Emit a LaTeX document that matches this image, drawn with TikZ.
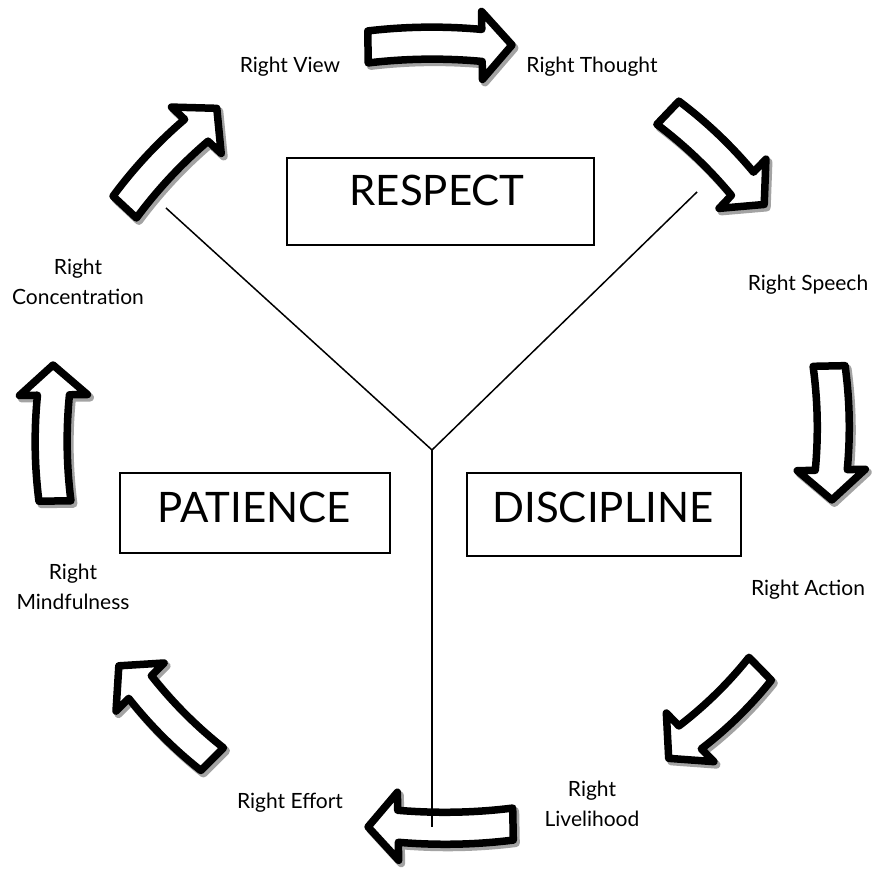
\documentclass[tikz,border=0pt]{standalone}
\usepackage{fontspec}
\setmainfont{Lato}
\begin{document}
\begin{tikzpicture}[x=1pt,y=1pt,
  frame/.style={draw=black, line width=1.3pt},
  boxtext/.style={font=\fontsize{42}{46}\selectfont, inner sep=0pt},
  steplabel/.style={font=\fontsize{21}{30}\selectfont, align=center, inner sep=0pt},
  branch/.style={draw=black, line width=1.5pt},
  arrowbody/.style={draw=black, fill=white, line width=7.5pt, line join=round},
  arrowshade/.style={draw=black!45, fill=black!45, line width=8pt, line join=round, opacity=0.8}]

% outline of one block arrow, tail at local x=0, tip at local x=#1, bowed by #2
\newcommand{\arrowoutline}[2]{%
  (4,16) .. controls ({(#1-39)/3+4},{16+#2}) and ({2*(#1-39)/3+4},{16+#2}) .. ({#1-35},16)
  -- ({#1-35},34) -- ({#1-5},0) -- ({#1-35},-34) -- ({#1-35},-16)
  .. controls ({2*(#1-39)/3+4},{-16+#2}) and ({(#1-39)/3+4},{-16+#2}) .. (4,-16) -- cycle}
% block arrow with its grainy drop shade: tail x, tail y, direction, length, bow
\newcommand{\flowarrow}[5]{%
  \begin{scope}[shift={({#1+2.5},{#2-3})}, rotate=#3]
    \path[arrowshade] \arrowoutline{#4}{#5};
  \end{scope}
  \begin{scope}[shift={(#1,#2)}, rotate=#3]
    \path[arrowbody] \arrowoutline{#4}{#5};
  \end{scope}}

\useasboundingbox (0,0) rectangle (883,872);

% the eight steps, clockwise
\flowarrow{364}{825}{0.75}{153}{4}
\flowarrow{665}{762}{-43.6}{142}{4}
\flowarrow{829}{510}{-88.8}{143}{4}
\flowarrow{763}{206}{-135.6}{137}{4}
\flowarrow{517}{48}{181.1}{154}{4}
\flowarrow{215}{110}{135}{141}{4}
\flowarrow{55}{367}{90.8}{145}{4}
\flowarrow{122}{662}{47}{144}{4}

% the Y that splits the three virtues
\coordinate (hub) at (432,422);
\coordinate (armL) at (166,664);
\coordinate (armR) at (697,680);
\coordinate (foot) at (432,45);
\draw[branch] (armL) -- (hub) -- (armR);
\draw[branch] (hub) -- (foot);

% the three virtues
\draw[frame] (287,627) rectangle (594,714);
\node[boxtext] (respect) at (437,682) {RESPECT};
\draw[frame] (120,319) rectangle (390,399);
\node[boxtext] (patience) at (254,365) {PATIENCE};
\draw[frame] (467,316) rectangle (741,399);
\node[boxtext] (discipline) at (603,365) {DISCIPLINE};

% the eightfold path
\node[steplabel] (view) at (290,805) {Right View};
\node[steplabel] (thought) at (592,805) {Right Thought};
\node[steplabel] (speech) at (808,587) {Right Speech};
\node[steplabel] (action) at (808,282) {Right Action};
\node[steplabel] (livelihood) at (592,68) {Right\\Livelihood};
\node[steplabel] (effort) at (290,69) {Right Effort};
\node[steplabel] (mindfulness) at (73,285) {Right\\Mindfulness};
\node[steplabel] (concentration) at (78,590) {Right\\Concentration};
\end{tikzpicture}
\end{document}
